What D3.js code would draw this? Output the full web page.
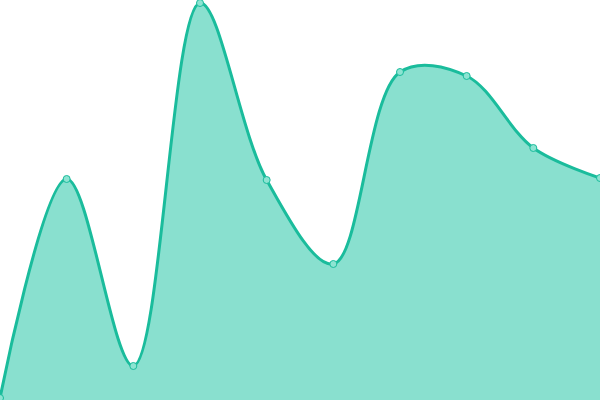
<!DOCTYPE html>
<html>
<head>
<meta charset="utf-8">
<script src="https://cdn.jsdelivr.net/npm/d3@7"></script>
<style>
  body { margin: 0; background: #fff; }
  svg { display: block; }
</style>
</head>
<body>
<div id="chart"></div>
<script>
var categories = [0, 1, 2, 3, 4, 5, 6, 7, 8, 9];
var values = [2, 221, 34, 397, 220, 136, 328, 324, 252, 222];

var width = 600, height = 400;

var svg = d3.select("#chart").append("svg")
  .attr("width", width)
  .attr("height", height);

var x = d3.scaleLinear().domain([0, categories.length - 1]).range([0, width]);
var y = d3.scaleLinear().domain([0, 400]).range([height, 0]);

var data = categories.map(function (c, i) { return { c: c, v: values[i] }; });

var curve = d3.curveCatmullRom.alpha(0.5);

var area = d3.area()
  .x(function (d) { return x(d.c); })
  .y0(height)
  .y1(function (d) { return y(d.v); })
  .curve(curve);

var line = d3.line()
  .x(function (d) { return x(d.c); })
  .y(function (d) { return y(d.v); })
  .curve(curve);

svg.append("path")
  .datum(data)
  .attr("d", area)
  .attr("fill", "#89e0cf");

svg.append("path")
  .datum(data)
  .attr("d", line)
  .attr("fill", "none")
  .attr("stroke", "#1abc9c")
  .attr("stroke-width", 3);

svg.selectAll(".dot")
  .data(data)
  .enter().append("circle")
  .attr("class", "dot")
  .attr("cx", function (d) { return x(d.c); })
  .attr("cy", function (d) { return y(d.v); })
  .attr("r", 3.5)
  .attr("fill", "#8de4d2")
  .attr("stroke", "#1abc9c")
  .attr("stroke-width", 1);
</script>
</body>
</html>
